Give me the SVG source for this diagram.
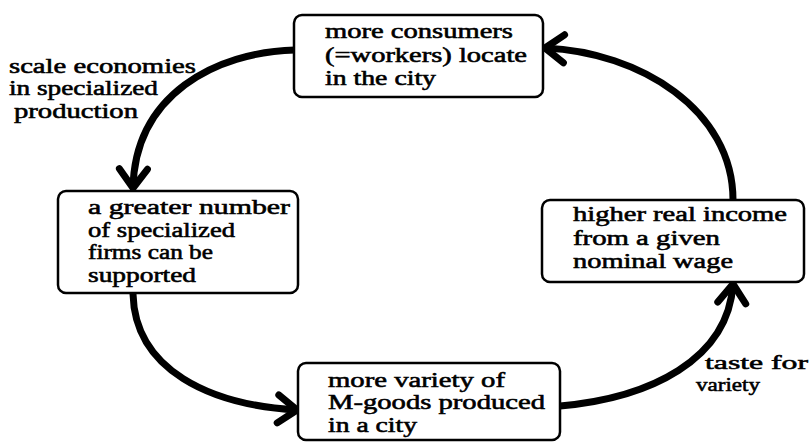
<svg xmlns="http://www.w3.org/2000/svg" width="809" height="443" viewBox="0 0 809 443">
<style>
  .box { fill: #fff; stroke: #000; stroke-width: 2.5; }
  .t { font-family: "Liberation Serif", "Times New Roman", serif; font-size: 20px; fill: #000; stroke: #000; stroke-width: 0.55; }
  .s { font-size: 19px; }
  .conn { fill: none; stroke: #000; stroke-width: 7; stroke-linecap: butt; }
</style>
<defs>
  <marker id="arr" viewBox="-24 -18 30 36" refX="0" refY="0" markerWidth="30" markerHeight="36" markerUnits="userSpaceOnUse" orient="auto" overflow="visible">
    <path d="M-19,-14 L0,0 L-19,14" fill="none" stroke="#000" stroke-width="7" stroke-linecap="round" stroke-linejoin="round"/>
  </marker>
</defs>
<rect width="809" height="443" fill="#fff"/>

<g id="connectors">
  <path class="conn" d="M295,50 C215,52 135,95 133,188" marker-end="url(#arr)"/>
  <path class="conn" d="M133,294 C135,370 210,405 297,410" marker-end="url(#arr)"/>
  <path class="conn" d="M560,406 C650,398 728,360 733,284" marker-end="url(#arr)"/>
  <path class="conn" d="M733,200 C733,110 640,52 545,48" marker-end="url(#arr)"/>
</g>

<g id="label-scale">
  <text class="t" x="9" y="73" textLength="187" lengthAdjust="spacingAndGlyphs">scale economies</text>
  <text class="t" x="9" y="95" textLength="149" lengthAdjust="spacingAndGlyphs">in specialized</text>
  <text class="t" x="14" y="118" textLength="124" lengthAdjust="spacingAndGlyphs">production</text>
</g>

<g id="label-taste">
  <text class="t s" x="705" y="369" textLength="103" lengthAdjust="spacingAndGlyphs">taste for</text>
  <text class="t s" x="696" y="391" textLength="64" lengthAdjust="spacingAndGlyphs">variety</text>
</g>

<g id="node-consumers">
  <rect class="box" x="294" y="15" width="249" height="82" rx="8"/>
  <text class="t" x="325" y="38" textLength="188" lengthAdjust="spacingAndGlyphs">more consumers</text>
  <text class="t" x="325" y="62" textLength="202" lengthAdjust="spacingAndGlyphs">(=workers) locate</text>
  <text class="t" x="325" y="85" textLength="111" lengthAdjust="spacingAndGlyphs">in the city</text>
</g>

<g id="node-firms">
  <rect class="box" x="58" y="191" width="240" height="102" rx="8"/>
  <text class="t" x="88" y="214" textLength="202" lengthAdjust="spacingAndGlyphs">a greater number</text>
  <text class="t" x="88" y="237" textLength="147" lengthAdjust="spacingAndGlyphs">of specialized</text>
  <text class="t" x="88" y="259" textLength="125" lengthAdjust="spacingAndGlyphs">firms can be</text>
  <text class="t" x="88" y="282" textLength="108" lengthAdjust="spacingAndGlyphs">supported</text>
</g>

<g id="node-income">
  <rect class="box" x="542" y="200" width="262" height="82" rx="8"/>
  <text class="t" x="573" y="221" textLength="214" lengthAdjust="spacingAndGlyphs">higher real income</text>
  <text class="t" x="573" y="245" textLength="147" lengthAdjust="spacingAndGlyphs">from a given</text>
  <text class="t" x="573" y="268" textLength="160" lengthAdjust="spacingAndGlyphs">nominal wage</text>
</g>

<g id="node-variety">
  <rect class="box" x="298" y="363" width="262" height="77" rx="8"/>
  <text class="t" x="328" y="387" textLength="177" lengthAdjust="spacingAndGlyphs">more variety of</text>
  <text class="t" x="328" y="409" textLength="217" lengthAdjust="spacingAndGlyphs">M-goods produced</text>
  <text class="t" x="328" y="432" textLength="89" lengthAdjust="spacingAndGlyphs">in a city</text>
</g>
</svg>
